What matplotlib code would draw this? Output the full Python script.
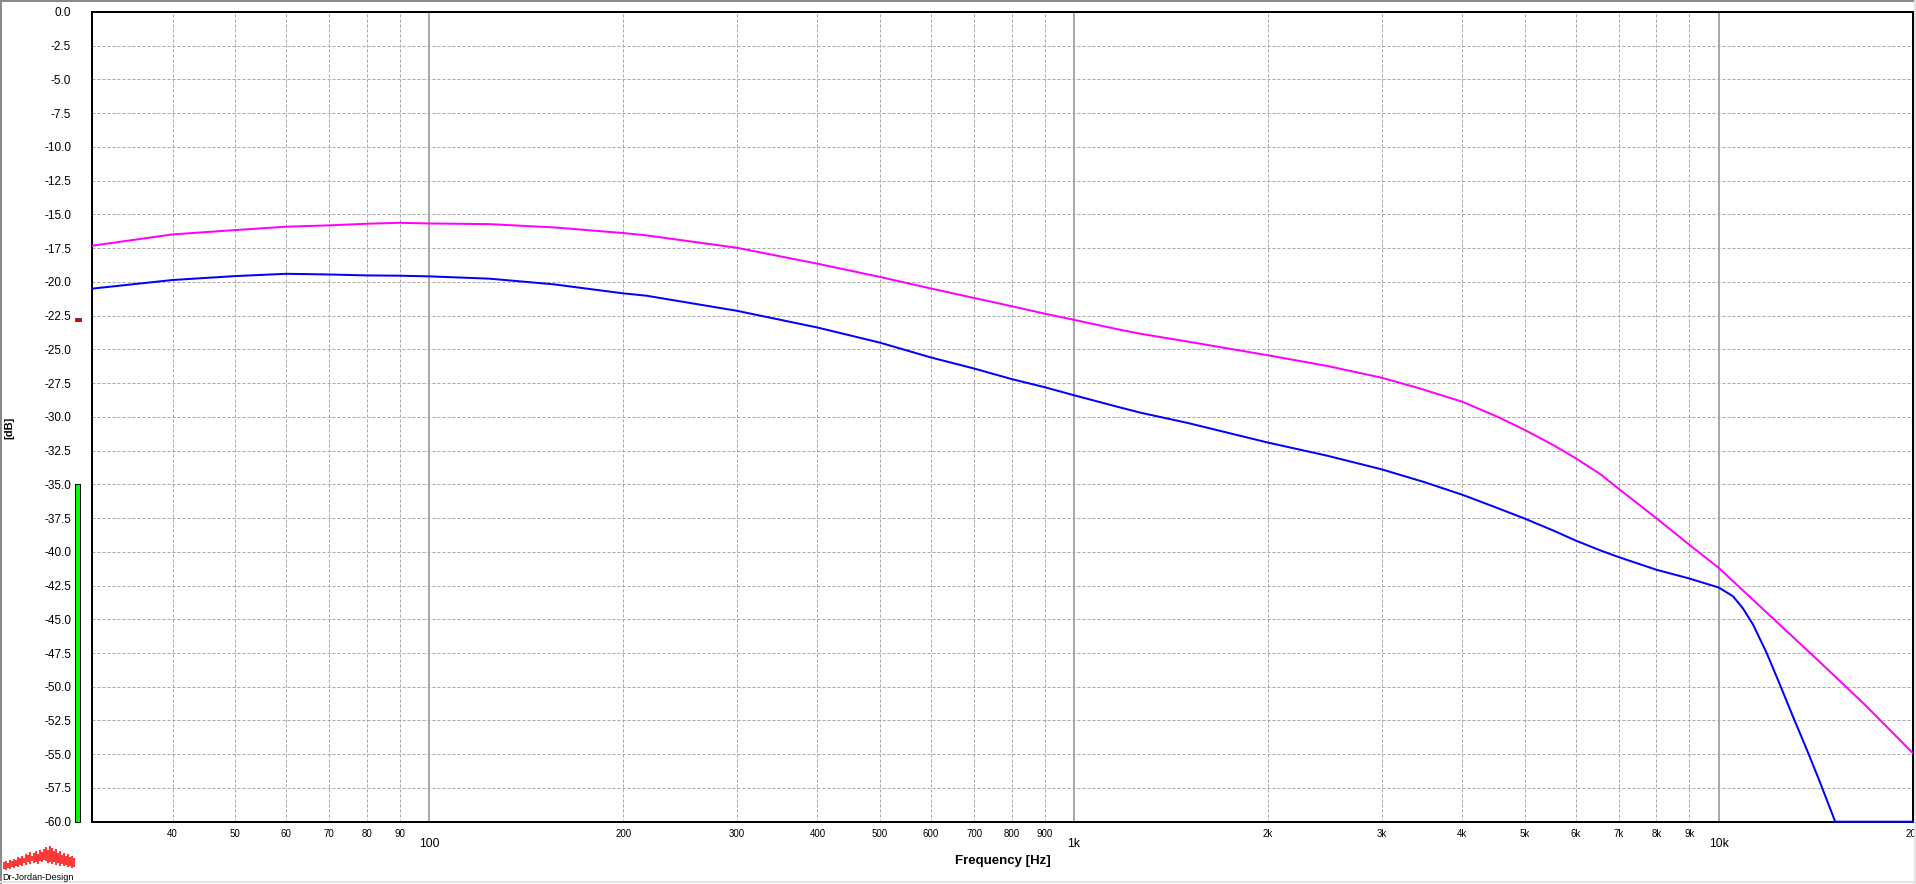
import numpy as np
import matplotlib
matplotlib.use("Agg")
import matplotlib.pyplot as plt
from matplotlib.patches import Rectangle
from matplotlib.transforms import blended_transform_factory
from matplotlib.lines import Line2D

plt.rcParams['font.family'] = ['Liberation Sans', 'DejaVu Sans']

# ---------------- data ----------------
freq_magenta = [30, 40, 50, 60, 70, 80, 90, 100, 124, 156, 200, 217, 300, 400, 500,
                600, 700, 800, 900, 1000, 1182, 1270, 1500, 2000, 2470, 3000, 3440,
                4000, 4530, 5000, 5540, 6000, 6550, 7000, 8000, 9000, 10000, 11860,
                14000, 15000, 16900, 20000]
level_magenta = [-17.32, -16.48, -16.16, -15.91, -15.81, -15.69, -15.62, -15.67, -15.72,
                 -15.96, -16.38, -16.55, -17.47, -18.65, -19.63, -20.49, -21.19, -21.80,
                 -22.35, -22.81, -23.56, -23.85, -24.42, -25.44, -26.23, -27.10, -27.90,
                 -28.88, -29.98, -30.97, -32.10, -33.07, -34.25, -35.35, -37.51, -39.48,
                 -41.20, -44.50, -47.70, -49.05, -51.40, -54.93]

freq_blue = [30, 40, 50, 60, 70, 80, 90, 100, 124, 156, 200, 217, 300, 400, 500,
             600, 700, 800, 900, 1000, 1182, 1270, 1500, 2000, 2470, 3000, 3490, 4000,
             4480, 5000, 5540, 6000, 6550, 7000, 8000, 9000, 10000, 10520, 10900,
             11300, 11860, 12400, 13000, 13700, 14300, 15150, 20000]
level_blue = [-20.50, -19.86, -19.57, -19.40, -19.45, -19.52, -19.54, -19.59, -19.76,
              -20.18, -20.85, -21.02, -22.14, -23.38, -24.50, -25.60, -26.42, -27.20,
              -27.80, -28.40, -29.32, -29.70, -30.45, -31.91, -32.88, -33.89, -34.83,
              -35.77, -36.66, -37.54, -38.43, -39.17, -39.90, -40.40, -41.33, -41.98,
              -42.65, -43.30, -44.20, -45.40, -47.50, -49.70, -52.10, -54.70, -56.90,
              -60.00, -60.00]

y_ticks = [-60.0 + 2.5 * i for i in range(25)]
major_freqs = [100, 1000, 10000]
major_labels = ['100', '1k', '10k']
minor_freqs = [40, 50, 60, 70, 80, 90, 200, 300, 400, 500, 600, 700, 800, 900,
               2000, 3000, 4000, 5000, 6000, 7000, 8000, 9000, 20000]
minor_labels = ['40', '50', '60', '70', '80', '90', '200', '300', '400', '500', '600',
                '700', '800', '900', '2k', '3k', '4k', '5k', '6k', '7k', '8k', '9k', '20k']

meter_level = -35.0      # green level bar top
marker_level = -22.8     # small red marker

# decorative logo bars (pixel tops/bottoms, 2 px wide each)
logo_top = [862, 861, 863, 860, 861, 859, 860, 857, 858, 856, 858, 854, 855, 852, 856,
            853, 851, 854, 850, 852, 849, 847, 850, 846, 848, 851, 849, 853, 851, 855,
            853, 856, 854, 857, 856, 858]
logo_bot = [869, 870, 868, 869, 867, 868, 866, 867, 865, 866, 863, 865, 862, 864, 861,
            863, 862, 864, 861, 862, 860, 861, 863, 862, 864, 862, 865, 863, 866, 864,
            866, 865, 867, 866, 868, 867]

# ---------------- figure ----------------
W, H = 1916, 884
fig = plt.figure(figsize=(W / 100, H / 100), dpi=100)
fig.patch.set_facecolor('white')

L, R, T, B = 92, 1913, 12, 821.7
ax = fig.add_axes([L / W, 1 - B / H, (R - L) / W, (B - T) / H])
ax.set_xscale('log')
ax.set_xlim(30, 20000)
ax.set_ylim(-60, 0)
ax.set_facecolor('white')

px = 0.72  # one pixel in points
for y in y_ticks[1:-1]:
    ax.axhline(y, color='#a6a6a6', lw=px, ls=(0, (3, 2)), zorder=1)
for f in minor_freqs[:-1]:
    ax.axvline(f, color='#a6a6a6', lw=px, ls=(0, (3, 2)), zorder=1)
for f in major_freqs:
    ax.axvline(f, color='#a8a8a8', lw=2 * px, zorder=1.5)

ax.plot(freq_magenta, level_magenta, color='#ff00ff', lw=2 * px, zorder=3)
ax.plot(freq_blue, level_blue, color='#0000ff', lw=2 * px, zorder=4, clip_on=False)

for s in ax.spines.values():
    s.set_linewidth(2 * px)
    s.set_color('black')
    s.set_zorder(2.5)

ax.set_yticks(y_ticks, labels=[f'{v:.1f}' for v in y_ticks])
ax.set_xticks(major_freqs, labels=major_labels)
ax.set_xticks(minor_freqs, labels=minor_labels, minor=True)
ax.tick_params(axis='y', length=0, pad=15, labelsize=8.5, labelcolor='#000000')
ax.tick_params(axis='x', which='major', length=0, pad=12, labelsize=8.8)
ax.tick_params(axis='x', which='minor', length=0, pad=5.5, labelsize=7)

fig.text(1002.5 / W, 1 - 864 / H, 'Frequency [Hz]', fontsize=9.5, fontweight='bold',
         ha='center', va='baseline')
fig.text(9.5 / W, 1 - 428 / H, '[dB]', fontsize=8, fontweight='bold', rotation=90,
         ha='center', va='center')

# level meter at the left of the axis
tr = blended_transform_factory(fig.transFigure, ax.transData)
fig.patches.append(Rectangle((74.5 / W, -60), 5.5 / W, meter_level + 60, transform=tr,
                             facecolor='#00ff00', edgecolor='black', lw=px, zorder=5))
fig.patches.append(Rectangle((74.5 / W, marker_level - 0.12), 6 / W, 0.24, transform=tr,
                             facecolor='#e00000', edgecolor='#600000', lw=0.5, zorder=5))

# logo
for i, (t, b) in enumerate(zip(logo_top, logo_bot)):
    x0 = 3 + i * 2
    fig.patches.append(Rectangle((x0 / W, 1 - b / H), 2 / W, (b - t) / H,
                                 transform=fig.transFigure, facecolor='#ff3838',
                                 edgecolor='none', zorder=5))
fig.text(2.5 / W, 1 - 879.5 / H, 'Dr-Jordan-Design', fontsize=6.5, ha='left',
         va='baseline', color='black')

# window border
fig.lines.append(Line2D([0, 1], [1 - 1 / H, 1 - 1 / H], transform=fig.transFigure,
                        color='#8a8a8a', lw=2 * px))
fig.lines.append(Line2D([1 / W, 1 / W], [0, 1], transform=fig.transFigure,
                        color='#8a8a8a', lw=2 * px))
fig.lines.append(Line2D([0, 1], [1 - 882 / H, 1 - 882 / H], transform=fig.transFigure,
                        color='#e2e2e2', lw=2 * px))
fig.lines.append(Line2D([1914.5 / W, 1914.5 / W], [0, 1], transform=fig.transFigure,
                        color='#e2e2e2', lw=2 * px))

fig.savefig('out.png', dpi=100, facecolor='white')
